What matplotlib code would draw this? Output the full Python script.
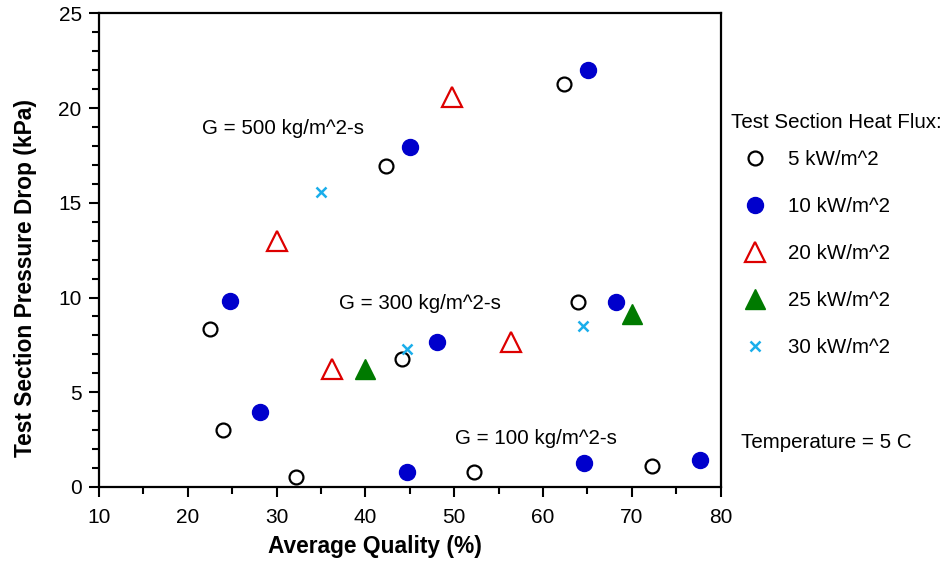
import numpy as np
import matplotlib
matplotlib.use("Agg")
import matplotlib.pyplot as plt
from matplotlib.ticker import MultipleLocator

plt.rcParams['font.family'] = ['Liberation Sans', 'DejaVu Sans']

# average quality (%) and pressure drop (kPa) for each heat flux
q5 = [22.5, 24.0, 32.2, 42.3, 44.1, 52.2, 62.4, 63.9, 72.3]
dp5 = [8.36, 2.99, 0.5, 16.95, 6.78, 0.78, 21.25, 9.74, 1.08]
q10 = [24.75, 28.1, 44.7, 45.0, 48.1, 65.1, 64.6, 68.2, 77.7]
dp10 = [9.82, 3.94, 0.78, 17.95, 7.66, 22.0, 1.29, 9.77, 1.41]
q20 = [30.0, 36.2, 49.8, 56.4]
dp20 = [12.96, 6.25, 20.6, 7.66]
q25 = [39.9, 70.0]
dp25 = [6.25, 9.12]
q30 = [35.0, 44.7, 64.5]
dp30 = [15.55, 7.3, 8.5]

flux_labels = ['5 kW/m^2', '10 kW/m^2', '20 kW/m^2', '25 kW/m^2', '30 kW/m^2']
mass_flux_notes = ['G = 500 kg/m^2-s', 'G = 300 kg/m^2-s', 'G = 100 kg/m^2-s']
note_x = [21.6, 37.0, 50.1]
note_y = [18.94, 9.71, 2.57]

fs = 14.8

fig = plt.figure(figsize=(9.52, 5.61), dpi=100)
ax = fig.add_axes([0.104, 0.132, 0.653, 0.844])

ax.plot(q5, dp5, 'o', ls='none', mfc='white', mec='black', mew=1.6, ms=10, label=flux_labels[0])
ax.plot(q10, dp10, 'o', ls='none', mfc='#0000CC', mec='#0000CC', ms=11.5, label=flux_labels[1])
ax.plot(q20, dp20, '^', ls='none', mfc='white', mec='#DD0000', mew=1.6, ms=14.5, label=flux_labels[2])
ax.plot(q25, dp25, '^', ls='none', mfc='#007A00', mec='#007A00', ms=15, label=flux_labels[3])
ax.plot(q30, dp30, 'x', ls='none', color='#1AAEEB', mew=1.8, ms=7, label=flux_labels[4])

for s, x, y in zip(mass_flux_notes, note_x, note_y):
    ax.text(x, y, s, fontsize=fs, va='center', ha='left')

ax.set_xlim(10, 80)
ax.set_ylim(0, 25)
ax.xaxis.set_major_locator(MultipleLocator(10))
ax.xaxis.set_minor_locator(MultipleLocator(5))
ax.yaxis.set_major_locator(MultipleLocator(5))
ax.yaxis.set_minor_locator(MultipleLocator(1))
ax.tick_params(which='both', direction='out', width=1.5, labelsize=15)
ax.tick_params(which='major', length=7.5)
ax.tick_params(axis='x', which='major', pad=8)
ax.tick_params(axis='y', which='major', pad=5)
ax.tick_params(which='minor', length=5)
for sp in ax.spines.values():
    sp.set_linewidth(1.6)

ax.set_xlabel('Average Quality (%)', fontsize=16.4, fontweight='bold', va='center')
ax.set_ylabel('Test Section Pressure Drop (kPa)', fontsize=16.4, fontweight='bold', va='center')
ax.xaxis.set_label_coords(0.444, -0.126)
ax.yaxis.set_label_coords(-0.119, 0.441)

fig.text(731 / 952, 1 - 123 / 561, 'Test Section Heat Flux:', fontsize=fs, va='center', ha='left')
leg = ax.legend(loc='upper left', bbox_to_anchor=(730 / 952, 1 - 150 / 561),
                bbox_transform=fig.transFigure, frameon=False, fontsize=fs,
                handlelength=2.4, handletextpad=0.4, labelspacing=1.36,
                borderpad=0, borderaxespad=0, numpoints=1)

fig.text(741 / 952, 1 - 442 / 561, 'Temperature = 5 C', fontsize=fs, va='center', ha='left')

fig.savefig('out.png', dpi=100)
